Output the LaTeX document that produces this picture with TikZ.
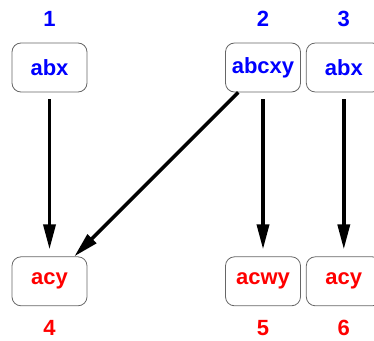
\documentclass[tikz,border=0pt]{standalone}
\usepackage{fontspec}
\setsansfont{Liberation Sans}
\usetikzlibrary{positioning, arrows.meta}

\begin{document}
\begin{tikzpicture}[x=1pt, y=1pt,
    box/.style={draw=black!60, line width=0.8pt, rounded corners=9pt,
                minimum width=75pt, minimum height=49pt, inner sep=0pt,
                font=\sffamily\bfseries\fontsize{22}{26}\selectfont},
    src/.style={box, text=blue},
    dst/.style={box, text=red},
    num/.style={font=\sffamily\bfseries\fontsize{22}{26}\selectfont, inner sep=0pt},
    arr/.style={-{Triangle[length=25pt, width=12pt]}, line width=3.5pt}]
    \useasboundingbox (0,0) rectangle (374,-340);

    % top row
    \node[src] (b1) at (49.5,-67.5) {abx};
    \node[src] (b2) at (263,-67.5) {abcxy};
    \node[src, right=5pt of b2] (b3) {abx};

    % bottom row
    \node[dst, below=164pt of b1] (b4) {acy};
    \node[dst, below=164pt of b2] (b5) {acwy};
    \node[dst, below=164pt of b3] (b6) {acy};

    % numbers
    \node[num, text=blue, yshift=23.5pt] (t1) at (b1.north) {1};
    \node[num, text=blue, yshift=23.5pt] (t2) at (b2.north) {2};
    \node[num, text=blue, yshift=23.5pt] (t3) at (b3.north) {3};
    \node[num, text=red, yshift=-22pt] (t4) at (b4.south) {4};
    \node[num, text=red, yshift=-22pt] (t5) at (b5.south) {5};
    \node[num, text=red, yshift=-22pt] (t6) at (b6.south) {6};

    \draw[arr, shorten <=7pt, shorten >=7pt] (b1) -- (b4);
    \draw[arr, shorten <=7pt, shorten >=7pt] (b2) -- (b5);
    \draw[arr, shorten <=7pt, shorten >=7pt] (b3) -- (b6);
    \draw[arr] (b2) -- (b4);
\end{tikzpicture}
\end{document}
